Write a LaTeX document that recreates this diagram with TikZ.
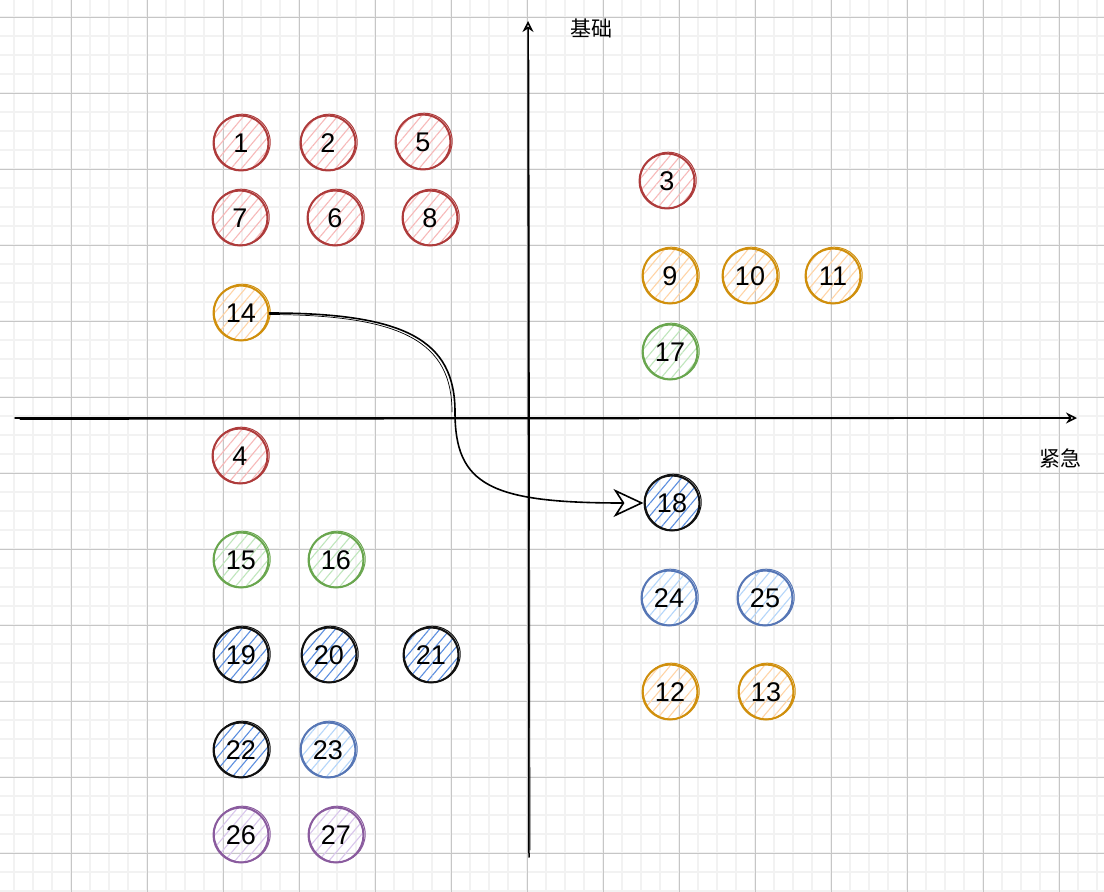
\documentclass[tikz,border=0pt]{standalone}
\usepackage{fontspec}
\setmainfont{Liberation Sans}
\newfontfamily\cjkfont{Noto Sans CJK SC}
\usetikzlibrary{arrows.meta,patterns.meta}
\definecolor{gridminor}{HTML}{F2F2F2}
\definecolor{gridmajor}{HTML}{C6C6C6}
\definecolor{redline}{HTML}{AE3B3B}
\definecolor{redfill}{HTML}{F7B9B9}
\definecolor{orangeline}{HTML}{D08F0C}
\definecolor{orangefill}{HTML}{FFD4A6}
\definecolor{greenline}{HTML}{69A64E}
\definecolor{greenfill}{HTML}{BFE6BC}
\definecolor{blueline}{HTML}{5676B5}
\definecolor{bluefill}{HTML}{B5D6FA}
\definecolor{inkline}{HTML}{111111}
\definecolor{inkfill}{HTML}{5B8EDF}
\definecolor{purpleline}{HTML}{8A5B9E}
\definecolor{purplefill}{HTML}{D9C6EC}
\tikzset{
    bub/.style={
        circle, draw=#1line, line width=2pt,
        pattern={Lines[angle=50,distance=8pt,line width=1.1pt]},
        pattern color=#1fill,
        minimum size=55pt, inner sep=0pt,
        font=\fontsize{27}{27}\selectfont
    },
    sketch/.style={draw=#1line, line width=1pt},
    axis/.style={line width=1.5pt, -{Stealth[open,length=11pt,width=11pt]}},
    link/.style={line width=1.6pt, -{Stealth[open,length=30pt,width=28pt,inset=9pt]}},
    lab/.style={font=\cjkfont\fontsize{21}{21}\selectfont}
}

\begin{document}
\begin{tikzpicture}[x=1pt,y=-1pt, line cap=round, line join=round]

\useasboundingbox (0,0) rectangle (1104,892);
\fill[white] (0,0) rectangle (1104,892);

% grid
\begin{scope}
\clip (0,0) rectangle (1104,892);
\foreach \x in {14.3,33.3,...,1110} {
  \draw[gridminor, line width=1.7pt] (\x,0) -- (\x,892);
}
\foreach \y in {-1.7,17.3,...,900} {
  \draw[gridminor, line width=1.7pt] (0,\y) -- (1104,\y);
}
\foreach \x in {71.3,147.3,...,1110} {
  \draw[gridmajor, line width=0.8pt] (\x,0) -- (\x,892);
}
\foreach \y in {17.3,93.3,...,900} {
  \draw[gridmajor, line width=0.8pt] (0,\y) -- (1104,\y);
}
\end{scope}

% axes
\coordinate (ybot) at (529,857);
\coordinate (ytop) at (528,21);
\coordinate (xleft) at (15,418);
\coordinate (xright) at (1077,418);
\draw[axis] (ybot) -- (ytop);
\draw[line width=0.7pt] (530,850) -- (529,60);
\draw[axis] (xleft) -- (xright);
\draw[line width=0.7pt] (20,419.5) -- (1040,418.5);
\node[lab] (ylab) at (591,28) {基础};
\node[lab] (xlab) at (1060,458) {紧急};

% items
\foreach \n/\x/\y/\s in {
  1/241/143/red, 2/328/143/red, 5/423/142/red,
  7/240/218/red, 6/335/218/red, 8/430/218/red,
  3/667/181/red, 4/240/456/red,
  9/670/276/orange, 10/750/276/orange, 11/833/276/orange,
  14/241/313/orange, 12/670/692/orange, 13/766/692/orange,
  17/670/352/green, 15/241/560/green, 16/336/560/green,
  18/672/503/ink, 19/241/655/ink, 20/329/655/ink,
  21/431/655/ink, 22/241/750/ink,
  24/669/598/blue, 25/765/598/blue, 23/328/750/blue,
  26/241/835/purple, 27/336/835/purple} {
  \node[bub=\s] (n\n) at (\x,\y) {\n};
  \draw[sketch=\s] (n\n.center) ++(1.2,-0.8) circle[radius=28pt];
}

% link 14 -> 18
\coordinate (bend) at (455,412);
\draw[link] (n14.east) .. controls (405,313) and (455,340) .. (bend)
  .. controls (455,485) and (490,503) .. (n18.west);
\draw[line width=0.7pt] (n14.east) ++(0,1.5) .. controls (403,315) and (452,342) .. (452,412);

\end{tikzpicture}
\end{document}
